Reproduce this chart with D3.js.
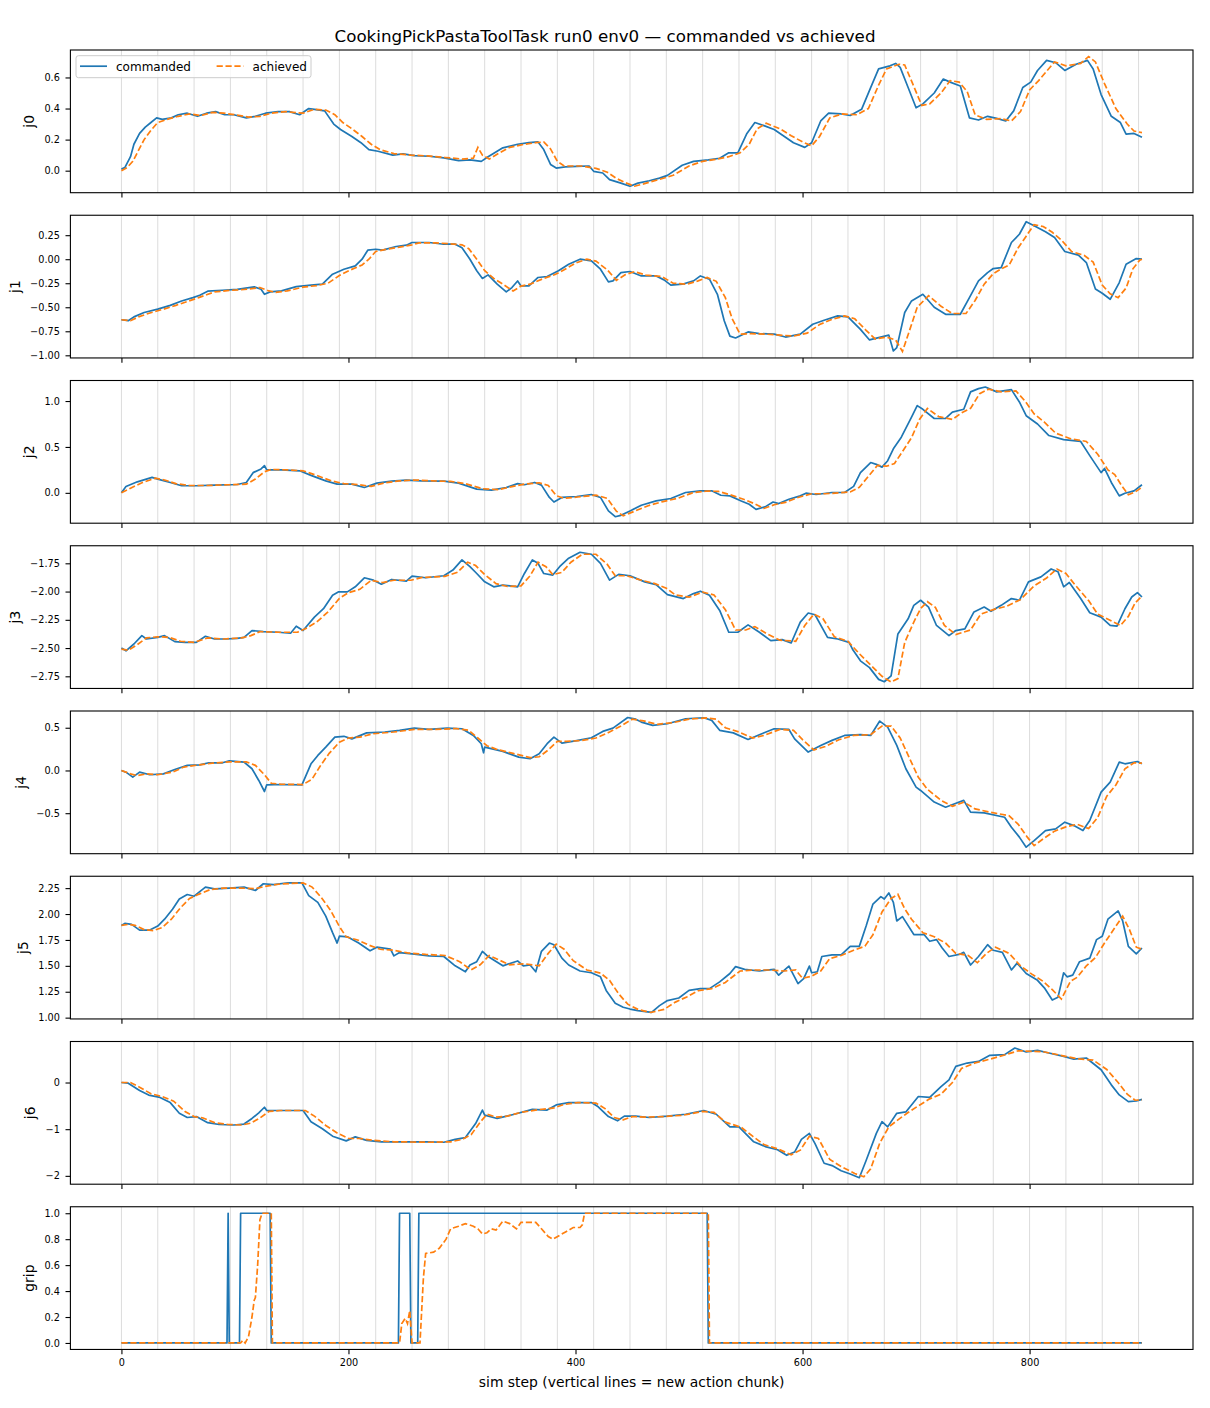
<!DOCTYPE html>
<html>
<head>
<meta charset="utf-8">
<title>commanded vs achieved</title>
<script src="https://cdn.jsdelivr.net/npm/d3@7"></script>
<style>
  html, body { margin: 0; padding: 0; background: #fff; }
  svg text { font-family: "DejaVu Sans", "Liberation Sans", sans-serif; fill: #000; }
</style>
</head>
<body>
<div id="chart"></div>
<script>
  "use strict";

  // ---- data ----
  var TITLE = "CookingPickPastaToolTask run0 env0 — commanded vs achieved";
  var X_LABEL = "sim step (vertical lines = new action chunk)";
  var STEP_FIRST = 0;
  var STEP_LAST = 899;
  var CHUNK_STARTS = [0, 32, 64, 96, 128, 160, 192, 224, 256, 288, 320, 352, 384, 416, 448, 480,
    512, 544, 576, 608, 640, 672, 704, 736, 768, 800, 832, 864, 896];
  var X_TICKS = [0, 200, 400, 600, 800];
  var SERIES_NAMES = ["commanded", "achieved"];
  var JOINT_NAMES = ["j0", "j1", "j2", "j3", "j4", "j5", "j6", "grip"];

  var J0_CMD = [[0,0.01],[3,0.02],[8,0.09],[11,0.17],[16,0.24],[21,0.28],[26,0.31],[31,0.34],[36,0.33],[44,0.34],[50,0.36],[58,0.37],[67,0.35],[75,0.37],[83,0.38],[91,0.36],[99,0.36],[110,0.34],[118,0.35],[127,0.37],[138,0.38],[148,0.38],[157,0.36],[165,0.40],[170,0.395],[179,0.385],[187,0.30],[193,0.265],[203,0.22],[211,0.18],[218,0.135],[226,0.125],[239,0.10],[248,0.108],[258,0.097],[271,0.093],[284,0.082],[297,0.065],[307,0.07],[317,0.06],[323,0.09],[336,0.147],[349,0.17],[359,0.18],[367,0.185],[372,0.136],[378,0.04],[383,0.017],[391,0.024],[401,0.028],[412,0.03],[416,-0.004],[424,-0.015],[430,-0.058],[440,-0.08],[448,-0.10],[455,-0.08],[465,-0.065],[474,-0.048],[481,-0.03],[494,0.035],[504,0.06],[517,0.07],[527,0.08],[535,0.115],[543,0.115],[551,0.24],[558,0.31],[566,0.29],[575,0.265],[584,0.22],[592,0.18],[602,0.15],[608,0.18],[616,0.32],[623,0.37],[634,0.365],[642,0.355],[652,0.395],[660,0.535],[667,0.655],[677,0.675],[682,0.69],[686,0.665],[693,0.535],[700,0.405],[706,0.43],[716,0.50],[724,0.59],[730,0.57],[739,0.545],[747,0.34],[755,0.326],[763,0.35],[771,0.337],[779,0.32],[786,0.385],[794,0.535],[801,0.57],[807,0.645],[815,0.71],[823,0.695],[831,0.645],[841,0.685],[851,0.71],[856,0.655],[863,0.49],[872,0.35],[880,0.31],[885,0.235],[892,0.24],[899,0.215]];
  var J0_ACH = [[0,0.0],[5,0.02],[10,0.06],[15,0.13],[20,0.2],[26,0.26],[32,0.31],[40,0.33],[50,0.35],[60,0.365],[70,0.355],[80,0.375],[90,0.37],[100,0.36],[112,0.345],[122,0.35],[132,0.37],[145,0.38],[160,0.37],[170,0.395],[180,0.39],[188,0.36],[195,0.31],[203,0.27],[212,0.22],[220,0.17],[228,0.135],[240,0.11],[255,0.10],[270,0.095],[285,0.085],[300,0.075],[310,0.08],[314,0.15],[318,0.10],[324,0.075],[332,0.11],[342,0.15],[355,0.17],[365,0.18],[372,0.185],[378,0.14],[384,0.06],[390,0.03],[405,0.03],[418,0.015],[428,-0.01],[436,-0.05],[445,-0.08],[452,-0.10],[460,-0.085],[472,-0.06],[486,-0.03],[500,0.03],[512,0.06],[525,0.075],[535,0.09],[545,0.115],[553,0.17],[560,0.27],[568,0.305],[580,0.27],[590,0.225],[600,0.185],[608,0.16],[615,0.22],[624,0.34],[635,0.365],[648,0.36],[658,0.4],[667,0.55],[674,0.655],[685,0.685],[690,0.68],[697,0.56],[705,0.42],[712,0.43],[722,0.5],[730,0.58],[738,0.57],[745,0.51],[752,0.36],[762,0.33],[775,0.335],[784,0.32],[792,0.38],[800,0.52],[808,0.58],[815,0.64],[822,0.7],[832,0.675],[845,0.69],[852,0.735],[858,0.7],[866,0.56],[876,0.4],[886,0.3],[892,0.255],[899,0.245]];

  var J1_CMD = [[0,-0.63],[6,-0.64],[11,-0.60],[20,-0.555],[32,-0.52],[43,-0.48],[53,-0.435],[63,-0.40],[69,-0.375],[76,-0.333],[89,-0.323],[102,-0.313],[117,-0.288],[123,-0.313],[126,-0.365],[131,-0.34],[141,-0.33],[154,-0.285],[167,-0.27],[177,-0.26],[186,-0.156],[196,-0.104],[206,-0.07],[212,0.0],[217,0.094],[224,0.104],[230,0.094],[242,0.132],[251,0.146],[256,0.174],[271,0.174],[284,0.156],[294,0.156],[300,0.12],[307,0.0],[313,-0.12],[318,-0.20],[323,-0.163],[331,-0.26],[339,-0.34],[344,-0.295],[349,-0.226],[352,-0.278],[359,-0.278],[367,-0.19],[375,-0.18],[385,-0.12],[394,-0.052],[404,0.0],[414,-0.017],[422,-0.104],[429,-0.236],[433,-0.226],[440,-0.14],[448,-0.128],[458,-0.174],[471,-0.174],[478,-0.215],[484,-0.27],[494,-0.26],[504,-0.226],[510,-0.174],[518,-0.208],[525,-0.365],[531,-0.64],[536,-0.80],[541,-0.82],[552,-0.757],[562,-0.774],[575,-0.78],[585,-0.81],[598,-0.78],[609,-0.677],[619,-0.635],[631,-0.59],[640,-0.60],[651,-0.73],[659,-0.84],[667,-0.816],[676,-0.79],[680,-0.955],[683,-0.92],[690,-0.555],[696,-0.434],[706,-0.365],[716,-0.50],[726,-0.573],[739,-0.573],[747,-0.40],[755,-0.226],[763,-0.14],[768,-0.097],[775,-0.087],[784,0.174],[791,0.26],[797,0.39],[804,0.347],[814,0.285],[822,0.226],[831,0.08],[843,0.042],[850,-0.035],[858,-0.31],[864,-0.354],[871,-0.417],[879,-0.243],[885,-0.052],[894,0.007],[899,0.0]];
  var J1_ACH = [[0,-0.63],[8,-0.64],[15,-0.6],[25,-0.56],[37,-0.52],[48,-0.48],[58,-0.44],[68,-0.4],[75,-0.37],[82,-0.34],[95,-0.325],[108,-0.315],[122,-0.295],[130,-0.33],[136,-0.345],[146,-0.33],[160,-0.29],[172,-0.275],[182,-0.25],[192,-0.17],[202,-0.11],[212,-0.06],[218,0.0],[224,0.08],[232,0.1],[245,0.125],[256,0.15],[262,0.17],[277,0.17],[290,0.16],[300,0.15],[306,0.11],[313,0.0],[320,-0.12],[328,-0.2],[336,-0.26],[345,-0.33],[352,-0.28],[360,-0.26],[372,-0.2],[382,-0.16],[390,-0.11],[400,-0.04],[410,0.0],[418,-0.02],[428,-0.11],[436,-0.22],[444,-0.16],[452,-0.13],[462,-0.165],[476,-0.18],[486,-0.25],[498,-0.26],[508,-0.225],[516,-0.19],[524,-0.23],[532,-0.4],[538,-0.62],[545,-0.78],[555,-0.775],[568,-0.78],[580,-0.79],[592,-0.8],[604,-0.77],[615,-0.68],[625,-0.63],[637,-0.59],[646,-0.62],[656,-0.74],[664,-0.83],[674,-0.81],[682,-0.84],[688,-0.96],[694,-0.75],[701,-0.5],[711,-0.38],[722,-0.49],[732,-0.565],[744,-0.565],[752,-0.43],[760,-0.26],[768,-0.15],[775,-0.1],[782,-0.06],[790,0.12],[797,0.24],[804,0.36],[812,0.34],[820,0.28],[828,0.2],[837,0.08],[848,0.04],[856,-0.03],[864,-0.27],[871,-0.36],[878,-0.4],[885,-0.3],[891,-0.1],[897,-0.01],[899,0.0]];

  var J2_CMD = [[0,0.0],[4,0.07],[14,0.12],[27,0.168],[32,0.15],[43,0.113],[53,0.077],[66,0.077],[82,0.084],[102,0.091],[110,0.113],[116,0.22],[123,0.26],[126,0.296],[128,0.25],[141,0.25],[157,0.24],[167,0.19],[180,0.13],[190,0.095],[203,0.095],[214,0.058],[225,0.106],[238,0.128],[251,0.139],[264,0.13],[284,0.128],[297,0.106],[313,0.04],[326,0.03],[339,0.058],[349,0.10],[355,0.088],[364,0.113],[370,0.084],[377,-0.05],[381,-0.10],[388,-0.05],[401,-0.04],[414,-0.018],[422,-0.05],[429,-0.197],[435,-0.26],[440,-0.245],[448,-0.197],[458,-0.135],[471,-0.088],[484,-0.062],[497,0.004],[510,0.022],[520,0.022],[528,-0.026],[536,-0.033],[546,-0.088],[553,-0.124],[559,-0.18],[567,-0.153],[574,-0.10],[579,-0.117],[588,-0.07],[598,-0.033],[603,-0.004],[612,-0.018],[626,0.004],[637,0.004],[645,0.07],[651,0.22],[660,0.33],[665,0.31],[670,0.28],[675,0.35],[680,0.48],[687,0.606],[696,0.825],[701,0.95],[706,0.91],[716,0.81],[726,0.81],[732,0.88],[742,0.91],[748,1.10],[755,1.135],[761,1.153],[771,1.10],[784,1.124],[791,0.99],[797,0.84],[807,0.75],[817,0.624],[830,0.58],[845,0.56],[853,0.405],[863,0.22],[866,0.266],[872,0.113],[879,-0.033],[884,-0.004],[892,0.022],[899,0.088]];
  var J2_ACH = [[0,0.0],[8,0.05],[18,0.11],[30,0.16],[38,0.14],[48,0.1],[60,0.08],[75,0.08],[95,0.088],[110,0.095],[118,0.15],[126,0.23],[132,0.255],[145,0.25],[160,0.24],[172,0.19],[185,0.13],[196,0.1],[208,0.09],[220,0.07],[232,0.11],[245,0.13],[258,0.14],[275,0.13],[290,0.125],[303,0.1],[318,0.045],[332,0.035],[345,0.07],[355,0.095],[368,0.11],[376,0.08],[383,-0.03],[390,-0.06],[402,-0.045],[418,-0.025],[428,-0.06],[436,-0.2],[442,-0.25],[452,-0.2],[464,-0.14],[477,-0.095],[490,-0.06],[503,0.0],[516,0.02],[526,0.015],[536,-0.02],[548,-0.07],[558,-0.12],[566,-0.17],[575,-0.13],[586,-0.1],[596,-0.05],[608,-0.01],[620,-0.01],[632,0.0],[642,0.01],[650,0.06],[658,0.18],[666,0.3],[674,0.29],[681,0.32],[688,0.45],[696,0.6],[703,0.8],[710,0.92],[720,0.83],[732,0.8],[740,0.87],[748,0.92],[756,1.08],[764,1.13],[775,1.1],[788,1.11],[796,1.0],[804,0.86],[813,0.77],[823,0.65],[836,0.59],[850,0.56],[860,0.42],[869,0.25],[875,0.2],[881,0.08],[887,-0.02],[893,0.01],[899,0.06]];

  var J3_CMD = [[0,-2.50],[4,-2.524],[11,-2.464],[18,-2.39],[22,-2.42],[32,-2.405],[38,-2.39],[47,-2.443],[56,-2.45],[66,-2.45],[74,-2.396],[82,-2.42],[92,-2.42],[102,-2.414],[108,-2.405],[115,-2.345],[125,-2.354],[138,-2.36],[149,-2.369],[154,-2.307],[160,-2.345],[170,-2.226],[178,-2.152],[186,-2.033],[191,-2.003],[199,-2.003],[206,-1.958],[214,-1.878],[222,-1.899],[229,-1.935],[238,-1.893],[251,-1.908],[256,-1.863],[268,-1.878],[284,-1.86],[292,-1.81],[300,-1.72],[307,-1.78],[313,-1.84],[320,-1.914],[328,-1.958],[336,-1.943],[349,-1.958],[355,-1.84],[362,-1.72],[367,-1.75],[372,-1.84],[380,-1.854],[386,-1.78],[394,-1.705],[404,-1.652],[414,-1.67],[422,-1.75],[430,-1.899],[438,-1.848],[448,-1.86],[461,-1.914],[471,-1.938],[481,-2.027],[495,-2.062],[504,-2.018],[510,-1.997],[518,-2.033],[527,-2.167],[535,-2.36],[543,-2.36],[552,-2.295],[562,-2.36],[572,-2.434],[582,-2.425],[590,-2.455],[598,-2.27],[605,-2.19],[611,-2.205],[622,-2.405],[631,-2.42],[641,-2.45],[644,-2.51],[651,-2.613],[659,-2.673],[667,-2.777],[672,-2.798],[678,-2.747],[684,-2.375],[693,-2.241],[698,-2.122],[704,-2.077],[711,-2.137],[718,-2.30],[729,-2.39],[735,-2.345],[743,-2.33],[751,-2.18],[760,-2.137],[766,-2.175],[775,-2.122],[784,-2.062],[791,-2.077],[799,-1.914],[810,-1.87],[819,-1.80],[825,-1.824],[830,-1.958],[835,-1.92],[845,-2.062],[853,-2.188],[863,-2.226],[871,-2.30],[877,-2.306],[884,-2.152],[890,-2.048],[895,-2.009],[899,-2.048]];
  var J3_ACH = [[0,-2.51],[6,-2.52],[14,-2.47],[22,-2.41],[32,-2.4],[42,-2.405],[52,-2.44],[64,-2.45],[76,-2.41],[90,-2.42],[106,-2.41],[114,-2.39],[122,-2.355],[140,-2.36],[155,-2.36],[162,-2.33],[172,-2.27],[182,-2.18],[192,-2.06],[200,-2.01],[210,-1.98],[220,-1.9],[230,-1.92],[240,-1.9],[255,-1.9],[265,-1.875],[285,-1.865],[296,-1.83],[305,-1.74],[312,-1.77],[320,-1.85],[330,-1.93],[340,-1.955],[352,-1.95],[360,-1.86],[367,-1.74],[374,-1.78],[380,-1.85],[388,-1.83],[396,-1.74],[406,-1.67],[418,-1.67],[428,-1.76],[435,-1.86],[445,-1.86],[458,-1.9],[470,-1.93],[480,-1.97],[488,-2.03],[500,-2.05],[512,-2.005],[522,-2.03],[532,-2.16],[541,-2.34],[550,-2.34],[558,-2.31],[568,-2.37],[580,-2.43],[594,-2.44],[602,-2.3],[610,-2.2],[618,-2.24],[628,-2.4],[640,-2.44],[650,-2.55],[660,-2.65],[670,-2.75],[678,-2.8],[684,-2.77],[690,-2.45],[698,-2.27],[704,-2.15],[710,-2.09],[717,-2.14],[725,-2.3],[735,-2.38],[748,-2.34],[757,-2.2],[768,-2.16],[780,-2.13],[792,-2.07],[804,-1.95],[815,-1.88],[824,-1.8],[832,-1.84],[840,-1.94],[852,-2.08],[860,-2.2],[870,-2.25],[880,-2.3],[887,-2.22],[893,-2.1],[899,-2.04]];

  var J4_CMD = [[0,0.0],[4,-0.02],[10,-0.078],[16,-0.02],[25,-0.05],[37,-0.04],[47,0.012],[58,0.06],[69,0.066],[77,0.09],[89,0.09],[95,0.113],[108,0.098],[115,0.02],[121,-0.117],[126,-0.246],[128,-0.168],[141,-0.164],[159,-0.168],[167,0.078],[173,0.176],[180,0.273],[188,0.39],[196,0.40],[203,0.37],[216,0.44],[232,0.45],[245,0.47],[258,0.496],[271,0.48],[287,0.496],[300,0.488],[310,0.41],[317,0.313],[319,0.207],[320,0.273],[336,0.223],[350,0.156],[360,0.137],[368,0.195],[375,0.313],[381,0.39],[388,0.32],[401,0.35],[414,0.383],[424,0.457],[433,0.496],[446,0.62],[453,0.60],[458,0.566],[468,0.527],[481,0.547],[497,0.605],[513,0.617],[520,0.586],[527,0.47],[539,0.44],[552,0.363],[562,0.418],[575,0.488],[588,0.48],[593,0.37],[605,0.215],[616,0.293],[626,0.352],[637,0.41],[651,0.42],[660,0.41],[668,0.578],[675,0.508],[683,0.293],[691,0.02],[700,-0.195],[704,-0.234],[716,-0.37],[726,-0.43],[734,-0.39],[742,-0.35],[748,-0.488],[760,-0.496],[778,-0.547],[784,-0.664],[791,-0.78],[797,-0.898],[804,-0.82],[814,-0.703],[823,-0.684],[831,-0.605],[839,-0.645],[847,-0.703],[853,-0.586],[863,-0.254],[871,-0.137],[879,0.098],[884,0.078],[895,0.105],[899,0.078]];
  var J4_ACH = [[0,0.0],[8,-0.04],[14,-0.06],[22,-0.04],[32,-0.05],[45,-0.02],[55,0.04],[68,0.065],[80,0.085],[95,0.1],[110,0.1],[118,0.06],[126,-0.05],[132,-0.15],[140,-0.16],[160,-0.165],[168,-0.1],[175,0.05],[183,0.2],[192,0.33],[200,0.38],[210,0.39],[222,0.43],[240,0.45],[258,0.48],[275,0.48],[295,0.49],[306,0.47],[314,0.38],[322,0.29],[330,0.25],[345,0.2],[360,0.15],[368,0.16],[376,0.24],[384,0.34],[392,0.34],[405,0.35],[418,0.38],[430,0.45],[440,0.52],[450,0.6],[460,0.58],[472,0.54],[486,0.56],[500,0.6],[515,0.615],[524,0.6],[532,0.5],[544,0.45],[556,0.38],[566,0.41],[580,0.48],[592,0.47],[600,0.36],[610,0.24],[620,0.28],[632,0.36],[645,0.41],[660,0.42],[670,0.52],[678,0.52],[686,0.38],[694,0.15],[702,-0.08],[710,-0.22],[722,-0.35],[732,-0.42],[742,-0.37],[752,-0.45],[766,-0.49],[782,-0.53],[790,-0.63],[798,-0.78],[804,-0.88],[812,-0.8],[822,-0.71],[832,-0.66],[842,-0.63],[852,-0.68],[860,-0.55],[868,-0.3],[876,-0.17],[884,0.02],[892,0.09],[899,0.085]];

  var J5_CMD = [[0,1.89],[3,1.91],[9,1.90],[16,1.845],[25,1.845],[32,1.884],[38,1.95],[45,2.047],[51,2.145],[58,2.188],[64,2.172],[74,2.26],[82,2.243],[95,2.25],[108,2.26],[118,2.227],[125,2.292],[134,2.283],[147,2.302],[159,2.30],[165,2.178],[173,2.113],[180,1.98],[186,1.82],[190,1.72],[192,1.786],[199,1.78],[209,1.72],[219,1.645],[225,1.68],[237,1.662],[240,1.596],[245,1.628],[258,1.613],[271,1.596],[284,1.59],[294,1.50],[303,1.443],[307,1.508],[313,1.54],[318,1.64],[323,1.59],[336,1.50],[349,1.547],[354,1.50],[360,1.508],[365,1.443],[370,1.64],[377,1.72],[381,1.704],[388,1.574],[394,1.508],[404,1.45],[414,1.433],[422,1.394],[427,1.263],[435,1.14],[442,1.10],[448,1.083],[455,1.067],[467,1.05],[474,1.116],[481,1.165],[491,1.19],[500,1.263],[510,1.28],[518,1.28],[527,1.345],[536,1.426],[541,1.492],[549,1.466],[562,1.45],[575,1.466],[579,1.41],[588,1.498],[596,1.328],[601,1.377],[606,1.498],[608,1.433],[613,1.443],[617,1.59],[626,1.606],[634,1.606],[642,1.688],[650,1.688],[656,1.884],[662,2.096],[669,2.168],[672,2.145],[676,2.204],[680,2.113],[683,1.933],[688,1.975],[698,1.802],[707,1.802],[712,1.737],[718,1.753],[723,1.672],[729,1.59],[739,1.613],[742,1.63],[748,1.508],[755,1.59],[763,1.704],[768,1.65],[776,1.63],[784,1.46],[789,1.526],[797,1.426],[807,1.36],[813,1.288],[820,1.17],[825,1.196],[830,1.433],[833,1.394],[838,1.41],[844,1.54],[853,1.574],[859,1.753],[864,1.786],[869,1.95],[878,2.03],[882,1.933],[887,1.688],[894,1.616],[899,1.672]];
  var J5_ACH = [[0,1.89],[6,1.9],[12,1.89],[20,1.85],[28,1.84],[36,1.87],[44,1.95],[52,2.06],[60,2.15],[68,2.19],[78,2.235],[90,2.25],[105,2.25],[118,2.245],[128,2.27],[140,2.29],[160,2.3],[168,2.26],[176,2.16],[184,2.04],[192,1.88],[198,1.78],[208,1.75],[218,1.7],[228,1.66],[240,1.65],[252,1.625],[268,1.61],[285,1.6],[298,1.54],[308,1.46],[316,1.51],[324,1.6],[332,1.56],[342,1.51],[355,1.52],[368,1.5],[376,1.62],[383,1.71],[390,1.66],[398,1.55],[410,1.46],[422,1.43],[430,1.36],[438,1.23],[446,1.13],[455,1.08],[466,1.05],[478,1.08],[488,1.15],[498,1.2],[508,1.26],[520,1.28],[532,1.34],[545,1.45],[556,1.46],[570,1.46],[584,1.45],[594,1.46],[600,1.38],[608,1.4],[616,1.45],[624,1.57],[634,1.6],[645,1.65],[655,1.69],[662,1.8],[670,2.02],[678,2.15],[684,2.19],[690,2.05],[696,1.95],[706,1.82],[716,1.78],[726,1.72],[735,1.62],[746,1.6],[754,1.53],[762,1.62],[770,1.68],[782,1.62],[792,1.5],[802,1.42],[812,1.35],[820,1.27],[828,1.18],[836,1.35],[842,1.39],[850,1.5],[858,1.58],[866,1.72],[874,1.85],[882,1.98],[888,1.85],[894,1.68],[899,1.66]];

  var J6_CMD = [[0,0.0],[6,-0.015],[16,-0.17],[24,-0.27],[34,-0.32],[43,-0.43],[51,-0.66],[58,-0.75],[66,-0.73],[76,-0.86],[86,-0.90],[99,-0.91],[108,-0.89],[115,-0.77],[121,-0.65],[126,-0.53],[128,-0.60],[141,-0.60],[160,-0.60],[167,-0.84],[177,-0.99],[186,-1.15],[198,-1.25],[206,-1.165],[216,-1.24],[229,-1.27],[251,-1.27],[271,-1.27],[284,-1.28],[294,-1.22],[303,-1.18],[312,-0.88],[318,-0.59],[320,-0.70],[331,-0.77],[346,-0.68],[362,-0.575],[375,-0.59],[383,-0.48],[394,-0.43],[414,-0.43],[420,-0.52],[429,-0.73],[437,-0.82],[443,-0.72],[453,-0.72],[465,-0.75],[481,-0.72],[497,-0.68],[513,-0.60],[524,-0.68],[536,-0.95],[544,-0.95],[557,-1.27],[568,-1.38],[578,-1.44],[586,-1.56],[593,-1.49],[599,-1.22],[606,-1.09],[611,-1.31],[619,-1.73],[626,-1.78],[634,-1.89],[642,-1.96],[650,-2.04],[656,-1.67],[665,-1.09],[670,-0.84],[675,-0.95],[683,-0.66],[691,-0.63],[702,-0.30],[712,-0.32],[722,-0.086],[729,0.058],[735,0.345],[745,0.417],[755,0.453],[765,0.583],[778,0.597],[787,0.74],[797,0.655],[807,0.69],[817,0.633],[830,0.56],[839,0.50],[850,0.525],[863,0.273],[872,-0.05],[879,-0.266],[887,-0.41],[894,-0.396],[899,-0.36]];
  var J6_ACH = [[0,0.0],[8,0.0],[16,-0.1],[26,-0.24],[36,-0.3],[46,-0.4],[56,-0.62],[64,-0.73],[72,-0.76],[82,-0.86],[94,-0.9],[106,-0.91],[114,-0.87],[122,-0.76],[130,-0.62],[140,-0.6],[162,-0.6],[170,-0.72],[180,-0.92],[190,-1.08],[200,-1.2],[210,-1.2],[222,-1.24],[240,-1.27],[270,-1.28],[290,-1.27],[300,-1.22],[308,-1.12],[316,-0.85],[322,-0.68],[330,-0.74],[340,-0.72],[352,-0.64],[368,-0.58],[380,-0.55],[390,-0.47],[402,-0.43],[418,-0.44],[426,-0.56],[434,-0.75],[442,-0.8],[450,-0.73],[462,-0.74],[478,-0.73],[495,-0.7],[512,-0.62],[522,-0.64],[532,-0.85],[546,-0.96],[556,-1.15],[566,-1.33],[578,-1.42],[590,-1.55],[598,-1.45],[606,-1.15],[614,-1.2],[624,-1.65],[634,-1.8],[646,-1.95],[654,-2.02],[660,-1.85],[668,-1.3],[676,-0.95],[684,-0.8],[692,-0.66],[702,-0.5],[712,-0.35],[722,-0.25],[732,0.0],[740,0.3],[752,0.42],[765,0.5],[778,0.59],[790,0.68],[800,0.67],[812,0.66],[826,0.59],[842,0.51],[856,0.48],[868,0.28],[878,0.0],[886,-0.25],[893,-0.38],[899,-0.37]];

  var GRIP_CMD = [[0,0],[93,0],[94,1],[95,0],[104,0],[105,1],[131,1],[132,0],[244,0],[245,1],[254,1],[255,0],[261,0],[262,1],[516,1],[517,0],[899,0]];
  var GRIP_ACH = [[0,0],[105,0],[107,0.02],[109,0.0],[112,0.05],[115,0.2],[117,0.33],[118,0.35],[120,0.6],[122,0.95],[124,1.0],[132,1.0],[133,0.0],[245,0],[247,0.15],[250,0.19],[252,0.15],[254,0.25],[256,0.0],[263,0],[266,0.5],[268,0.69],[275,0.7],[280,0.73],[286,0.8],[290,0.88],[297,0.9],[303,0.92],[310,0.9],[314,0.88],[318,0.84],[322,0.85],[326,0.88],[330,0.87],[336,0.94],[342,0.92],[348,0.88],[352,0.93],[358,0.93],[365,0.93],[370,0.88],[376,0.82],[380,0.8],[386,0.83],[392,0.86],[398,0.89],[404,0.89],[406,0.91],[408,1.0],[517,1.0],[518,0.0],[899,0]];

  var Y_TICKS = [
    [0, 0.2, 0.4, 0.6],
    [-1, -0.75, -0.5, -0.25, 0, 0.25],
    [0, 0.5, 1],
    [-2.75, -2.5, -2.25, -2, -1.75],
    [-0.5, 0, 0.5],
    [1, 1.25, 1.5, 1.75, 2, 2.25],
    [-2, -1, 0],
    [0, 0.2, 0.4, 0.6, 0.8, 1]
  ];
  var Y_TICK_FORMATS = [".1f", ".2f", ".1f", ".2f", ".1f", ".2f", "d", ".1f"];

  var COMMANDED = [J0_CMD, J1_CMD, J2_CMD, J3_CMD, J4_CMD, J5_CMD, J6_CMD, GRIP_CMD];
  var ACHIEVED = [J0_ACH, J1_ACH, J2_ACH, J3_ACH, J4_ACH, J5_ACH, J6_ACH, GRIP_ACH];

  // ---- layout ----
  var WIDTH = 1210;
  var HEIGHT = 1408;
  var AX_LEFT = 70.4;
  var AX_RIGHT = 1193;
  var AX_TOP = 50;
  var AX_H = 142.7;
  var AX_STEP = 165.25;
  var PLOT_W = AX_RIGHT - AX_LEFT;
  var TICK_LEN = 4.9;
  var TICK_PAD = 4.9;
  var CMD_COLOR = "#1f77b4";
  var ACH_COLOR = "#ff7f0e";

  var svg = d3.select("#chart")
    .append("svg")
    .attr("width", WIDTH)
    .attr("height", HEIGHT)
    .attr("viewBox", [0, 0, WIDTH, HEIGHT]);

  svg.append("rect").attr("width", WIDTH).attr("height", HEIGHT).attr("fill", "#fff");

  svg.append("text")
    .attr("x", WIDTH / 2)
    .attr("y", 42)
    .attr("text-anchor", "middle")
    .style("font-size", "16.7px")
    .text(TITLE);

  // matplotlib-style 5% margins
  var xPad = (STEP_LAST - STEP_FIRST) * 0.05;
  var x = d3.scaleLinear()
    .domain([STEP_FIRST - xPad, STEP_LAST + xPad])
    .range([0, PLOT_W]);

  JOINT_NAMES.forEach(function (name, i) {
    var cmd = COMMANDED[i];
    var ach = ACHIEVED[i];
    var ext = d3.extent(cmd.concat(ach), function (d) { return d[1]; });
    var yPad = (ext[1] - ext[0]) * 0.05;
    var y = d3.scaleLinear().domain([ext[0] - yPad, ext[1] + yPad]).range([AX_H, 0]);
    var isLast = i === JOINT_NAMES.length - 1;

    var g = svg.append("g").attr("transform", "translate(" + AX_LEFT + "," + (AX_TOP + i * AX_STEP) + ")");

    var clipId = "clip-" + i;
    g.append("clipPath").attr("id", clipId)
      .append("rect").attr("width", PLOT_W).attr("height", AX_H);

    var plot = g.append("g").attr("clip-path", "url(#" + clipId + ")");

    plot.selectAll("line.chunk")
      .data(CHUNK_STARTS)
      .join("line")
      .attr("class", "chunk")
      .attr("x1", function (d) { return x(d); })
      .attr("x2", function (d) { return x(d); })
      .attr("y1", 0)
      .attr("y2", AX_H)
      .attr("stroke", "#dcdcdc")
      .attr("stroke-width", 1);

    var path = d3.line()
      .x(function (d) { return x(d[0]); })
      .y(function (d) { return y(d[1]); });

    plot.append("path")
      .datum(cmd)
      .attr("d", path)
      .attr("fill", "none")
      .attr("stroke", CMD_COLOR)
      .attr("stroke-width", 1.7)
      .attr("stroke-linejoin", "round");

    plot.append("path")
      .datum(ach)
      .attr("d", path)
      .attr("fill", "none")
      .attr("stroke", ACH_COLOR)
      .attr("stroke-width", 1.7)
      .attr("stroke-dasharray", "6.2,2.7");

    // y axis
    var yAxis = g.append("g")
      .call(d3.axisLeft(y)
        .tickValues(Y_TICKS[i])
        .tickSize(TICK_LEN)
        .tickPadding(TICK_PAD + 0.8)
        .tickFormat(d3.format(Y_TICK_FORMATS[i])));
    yAxis.select(".domain").remove();
    yAxis.selectAll(".tick line").attr("stroke", "#000").attr("stroke-width", 1.1);
    yAxis.selectAll(".tick text")
      .attr("fill", "#000")
      .style("font-size", "9.7px")
      .style("font-family", "'DejaVu Sans', sans-serif");

    // x axis
    var xAxis = g.append("g")
      .attr("transform", "translate(0," + AX_H + ")")
      .call(d3.axisBottom(x)
        .tickValues(X_TICKS)
        .tickSize(TICK_LEN)
        .tickPadding(TICK_PAD)
        .tickFormat(isLast ? d3.format("d") : function () { return ""; }));
    xAxis.select(".domain").remove();
    xAxis.selectAll(".tick line").attr("stroke", "#000").attr("stroke-width", 1.1);
    xAxis.selectAll(".tick text")
      .attr("fill", "#000")
      .style("font-size", "9.7px")
      .style("font-family", "'DejaVu Sans', sans-serif");

    // frame
    g.append("rect")
      .attr("width", PLOT_W)
      .attr("height", AX_H)
      .attr("fill", "none")
      .attr("stroke", "#000")
      .attr("stroke-width", 1.1);

    // y label placed left of widest tick label
    var labelsLeft = 0;
    yAxis.selectAll(".tick text").each(function () {
      var b = this.getBBox();
      var left = -TICK_LEN - TICK_PAD - 0.8 - b.width;
      if (left < labelsLeft) labelsLeft = left;
    });
    g.append("text")
      .attr("transform", "translate(" + (labelsLeft - 10.5) + "," + (AX_H / 2) + ") rotate(-90)")
      .attr("text-anchor", "middle")
      .style("font-size", "13.9px")
      .text(name);

    if (i === 0) {
      var lg = g.append("g").attr("transform", "translate(5.6,5.7)");
      lg.append("rect")
        .attr("width", 235)
        .attr("height", 22)
        .attr("rx", 2.5)
        .attr("fill", "#fff")
        .attr("fill-opacity", 0.8)
        .attr("stroke", "#cccccc")
        .attr("stroke-width", 1);
      var items = [
        { label: SERIES_NAMES[0], color: CMD_COLOR, dash: null, x0: 4 },
        { label: SERIES_NAMES[1], color: ACH_COLOR, dash: "6.2,2.7", x0: 140.6 }
      ];
      items.forEach(function (it) {
        lg.append("line")
          .attr("x1", it.x0).attr("x2", it.x0 + 27)
          .attr("y1", 10.5).attr("y2", 10.5)
          .attr("stroke", it.color)
          .attr("stroke-width", 1.7)
          .attr("stroke-dasharray", it.dash);
        lg.append("text")
          .attr("x", it.x0 + 36)
          .attr("y", 10.5)
          .attr("dy", "0.36em")
          .style("font-size", "12px")
          .text(it.label);
      });
    }
  });

  svg.append("text")
    .attr("x", AX_LEFT + PLOT_W / 2)
    .attr("y", 1387)
    .attr("text-anchor", "middle")
    .style("font-size", "13.9px")
    .text(X_LABEL);
</script>
</body>
</html>
